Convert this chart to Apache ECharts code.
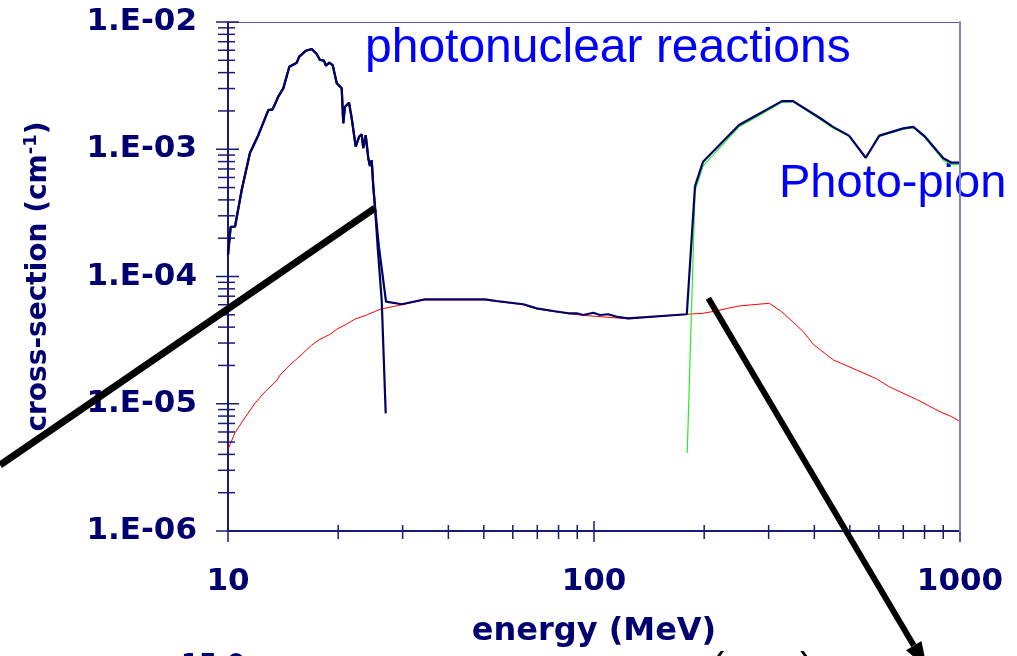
<!DOCTYPE html>
<html>
<head>
<meta charset="utf-8">
<script src="https://cdn.jsdelivr.net/npm/echarts@6/dist/echarts.min.js"></script>
<style>
  html, body { margin: 0; padding: 0; background: #ffffff; }
  #chart { width: 1017px; height: 656px; }
</style>
</head>
<body>
<div id="chart"></div>
<script>
// ---------- data (energy in MeV, cross-section in cm^-1) ----------
const energyTickLabels = ['10', '100', '1000'];
const sigmaTickLabels = ['1.E-06', '1.E-05', '1.E-04', '1.E-03', '1.E-02'];

const energyMajorTicks = [10, 100, 1000];
const energyMinorTicks = [20, 30, 40, 50, 60, 70, 80, 90, 200, 300, 400, 500, 600, 700, 800, 900];
const sigmaMajorTicks = [1e-6, 1e-5, 1e-4, 1e-3, 1e-2];
const sigmaMinorMultipliers = [2, 3, 4, 5, 6, 7, 8, 9];

// giant dipole resonance (shared by photonuclear and total curves)
const giantResonance = [
  [10.0, 1.48e-4], [10.17, 2.46e-4], [10.45, 2.46e-4], [10.90, 4.78e-4], [11.48, 9.34e-4],
  [12.10, 1.29e-3], [12.89, 2.03e-3], [13.25, 2.06e-3], [13.72, 2.59e-3], [14.16, 3.01e-3],
  [14.71, 4.45e-3], [15.41, 4.79e-3], [15.66, 5.34e-3], [16.33, 5.95e-3], [16.93, 6.14e-3],
  [17.47, 5.60e-3], [17.84, 5.03e-3], [18.29, 4.97e-3], [18.52, 4.53e-3], [18.91, 4.79e-3],
  [19.32, 4.59e-3], [19.82, 3.30e-3], [20.45, 3.01e-3], [20.65, 1.60e-3], [20.87, 2.16e-3],
  [21.41, 2.32e-3], [21.78, 1.75e-3], [21.99, 1.80e-3], [22.33, 1.05e-3], [22.84, 1.26e-3],
  [23.19, 1.31e-3], [23.42, 1.02e-3], [23.78, 1.29e-3], [24.17, 8.5e-4], [24.43, 7.4e-4],
  [24.70, 8.2e-4], [24.94, 5.1e-4], [25.21, 3.54e-4]
];
const photonuclearTail = [[25.64, 1.7e-4], [26.30, 6.5e-5], [26.97, 8.4e-6]];
const totalTail = [[25.85, 1.7e-4], [27.02, 6.34e-5]];
const totalPlateau = [
  [29.83, 6.05e-5], [34.54, 6.62e-5], [39.58, 6.62e-5], [44.89, 6.62e-5], [50.37, 6.62e-5],
  [54.22, 6.42e-5], [64.10, 6.05e-5], [69.74, 5.62e-5], [77.42, 5.36e-5], [85.08, 5.14e-5],
  [89.68, 5.14e-5], [93.50, 4.98e-5], [99.57, 5.19e-5], [103.8, 4.98e-5], [109.4, 5.05e-5],
  [115.4, 4.83e-5], [124.1, 4.69e-5], [179.3, 5.05e-5]
];
const totalPhotoPion = [
  [188.8, 5.14e-4], [198.6, 7.98e-4], [249.0, 1.55e-3], [278.9, 1.86e-3], [326.4, 2.39e-3],
  [349.8, 2.39e-3], [414.5, 1.76e-3], [449.8, 1.50e-3], [497.5, 1.28e-3], [552.6, 8.58e-4],
  [601.9, 1.28e-3], [700.0, 1.46e-3], [745.6, 1.50e-3], [802.6, 1.255e-3], [900.5, 8.49e-4],
  [949.1, 7.84e-4], [1000, 7.84e-4]
];
const photoPionOnly = [
  [179.8, 4.12e-6], [188.8, 4.7e-4], [198.6, 7.4e-4], [249.0, 1.50e-3], [278.9, 1.80e-3],
  [326.4, 2.35e-3], [349.8, 2.36e-3], [414.5, 1.72e-3], [449.8, 1.47e-3], [497.5, 1.26e-3],
  [552.6, 8.5e-4], [601.9, 1.26e-3], [700.0, 1.44e-3], [745.6, 1.48e-3], [802.6, 1.23e-3],
  [900.5, 8.2e-4], [949.1, 7.6e-4], [1000, 7.6e-4]
];
const redCurve = [
  [10.0, 4.39e-6], [10.45, 5.92e-6], [11.01, 7.45e-6], [11.85, 1.01e-5], [12.62, 1.24e-5],
  [13.64, 1.54e-5], [13.87, 1.68e-5], [14.77, 2.02e-5], [15.73, 2.37e-5], [16.93, 2.89e-5],
  [17.84, 3.21e-5], [18.99, 3.51e-5], [19.82, 3.85e-5], [21.10, 4.23e-5], [22.23, 4.63e-5],
  [23.93, 4.98e-5], [26.02, 5.52e-5], [29.83, 6.0e-5], [34.54, 6.55e-5], [50.37, 6.55e-5],
  [54.22, 6.35e-5], [64.10, 6.0e-5], [69.74, 5.57e-5], [77.42, 5.3e-5], [93.50, 4.95e-5],
  [124.1, 4.65e-5], [179.3, 5.05e-5], [198.9, 5.14e-5], [216.4, 5.38e-5], [248.0, 5.86e-5],
  [301.3, 6.16e-5], [325.7, 5.29e-5], [350.4, 4.37e-5], [373.2, 3.68e-5], [397.4, 2.93e-5],
  [450.6, 2.21e-5], [522.2, 1.84e-5], [592.1, 1.57e-5], [643.9, 1.35e-5], [761.6, 1.08e-5],
  [881.9, 8.66e-6], [949.0, 7.91e-6], [1000, 7.23e-6]
];
// black pointer lines (data coordinates): [x1, y1, x2, y2, arrowAtEnd]
const pointers = [
  [2.382, 3.30e-6, 25.21, 3.45e-4, 0],
  [205.3, 6.74e-5, 812.4, 8.39e-8, 1]
];

// ---------- build ----------
const NAVY = '#000066';
const AXIS = '#1a1a78';
const LABEL = '#000070';

const photonuclearData = giantResonance.concat(photonuclearTail);
const totalData = giantResonance.concat(totalTail, totalPlateau, totalPhotoPion);

const tickData = [];
sigmaMajorTicks.forEach(v => tickData.push([10, v, 0]));
sigmaMajorTicks.slice(0, -1).forEach(d => sigmaMinorMultipliers.forEach(m => tickData.push([10, d * m, 1])));
energyMajorTicks.forEach(v => tickData.push([v, 1e-6, 2]));
energyMinorTicks.forEach(v => tickData.push([v, 1e-6, 3]));

const chart = echarts.init(document.getElementById('chart'), null, { renderer: 'canvas' });

const labelFont = { fontFamily: 'DejaVu Sans', fontWeight: 'bold', color: LABEL };

chart.setOption({
  animation: false,
  backgroundColor: '#ffffff',
  grid: { left: 228, right: 57, top: 22, bottom: 125, containLabel: false, outerBoundsMode: 'none' },
  xAxis: [
    {
      type: 'log', logBase: 10, min: 10, max: 1000, position: 'bottom',
      axisLine: { lineStyle: { color: AXIS, width: 2 } },
      axisTick: { show: false }, splitLine: { show: false }, minorTick: { show: false },
      axisLabel: Object.assign({ fontSize: 31, margin: 35,
        formatter: v => energyTickLabels[Math.round(Math.log10(v)) - 1] }, labelFont),
      name: 'energy (MeV)', nameLocation: 'middle', nameGap: 85,
      nameTextStyle: Object.assign({ fontSize: 32 }, labelFont)
    },
    {
      type: 'log', logBase: 10, min: 10, max: 1000, position: 'top',
      axisLine: { lineStyle: { color: '#5a5aa8', width: 1.2 } },
      axisTick: { show: false }, axisLabel: { show: false }, splitLine: { show: false }
    }
  ],
  yAxis: [
    {
      type: 'log', logBase: 10, min: 1e-6, max: 1e-2, position: 'left',
      axisLine: { lineStyle: { color: AXIS, width: 2 } },
      axisTick: { show: false }, splitLine: { show: false }, minorTick: { show: false },
      axisLabel: Object.assign({ fontSize: 31, margin: 31,
        formatter: v => sigmaTickLabels[Math.round(Math.log10(v)) + 6] }, labelFont),
      name: '{a|cross-section (cm}{s|-1}{a|)}', nameLocation: 'middle', nameGap: 172, nameRotate: 90,
      nameTextStyle: {
        rich: {
          a: { fontSize: 28, fontFamily: 'DejaVu Sans', fontWeight: 'bold', color: LABEL, lineHeight: 34 },
          s: { fontSize: 18, fontFamily: 'DejaVu Sans', fontWeight: 'bold', color: LABEL, verticalAlign: 'top', lineHeight: 34 }
        }
      }
    },
    {
      type: 'log', logBase: 10, min: 1e-6, max: 1e-2, position: 'right', z: 5,
      axisLine: { lineStyle: { color: '#8484c6', width: 2 } },
      axisTick: { show: false }, axisLabel: { show: false }, splitLine: { show: false }
    }
  ],
  graphic: [
    { type: 'text', z: 0, left: 365, top: 25, style: { text: 'photonuclear reactions', font: '48px "Liberation Sans", Arial, sans-serif', fill: '#0000ff' } },
    { type: 'text', z: 0, left: 779, top: 161, style: { text: 'Photo-pion', font: '47px "Liberation Sans", Arial, sans-serif', fill: '#0000ff' } },
    { type: 'text', z: 0, left: 181, top: 653, style: { text: '15.0', font: 'bold 26px "DejaVu Sans"', fill: LABEL } },
    { type: 'text', z: 0, left: 711, top: 650, style: { text: '(', font: '40px "Liberation Sans"', fill: '#000000' } },
    { type: 'text', z: 0, left: 800, top: 650, style: { text: ')', font: '40px "Liberation Sans"', fill: '#000000' } }
  ],
  series: [
    {
      type: 'custom', name: 'ticks', xAxisIndex: 0, yAxisIndex: 0, clip: false, z: 3, silent: true,
      encode: { x: 0, y: 1 }, data: tickData,
      renderItem: (params, api) => {
        const p = api.coord([api.value(0), api.value(1)]);
        const k = api.value(2);
        let s;
        if (k === 0) s = { x1: p[0] - 12, y1: p[1], x2: p[0] + 11, y2: p[1] };
        else if (k === 1) s = { x1: p[0] - 10, y1: p[1], x2: p[0] + 7, y2: p[1] };
        else if (k === 2) s = { x1: p[0], y1: p[1] - 10, x2: p[0], y2: p[1] + 11 };
        else s = { x1: p[0], y1: p[1] - 6, x2: p[0], y2: p[1] + 8 };
        return { type: 'line', shape: s, style: { stroke: AXIS, lineWidth: 1.5 } };
      }
    },
    {
      type: 'line', name: 'red', data: redCurve, z: 2, symbol: 'none', silent: true,
      lineStyle: { color: '#ff0000', width: 1 }
    },
    {
      type: 'line', name: 'pion', data: photoPionOnly, z: 3, symbol: 'none', silent: true,
      lineStyle: { color: '#22ee22', width: 1.2 }
    },
    {
      type: 'line', name: 'photonuclear', data: photonuclearData, z: 4, symbol: 'none', silent: true,
      lineStyle: { color: NAVY, width: 2.2 }
    },
    {
      type: 'line', name: 'total', data: totalData, z: 4, symbol: 'none', silent: true,
      lineStyle: { color: NAVY, width: 2.2 }
    },
    {
      type: 'custom', name: 'pointers', xAxisIndex: 0, yAxisIndex: 0, clip: false, z: 6, silent: true,
      encode: { x: [0, 2], y: [1, 3] }, data: pointers,
      renderItem: (params, api) => {
        const a = api.coord([api.value(0), api.value(1)]);
        const b = api.coord([api.value(2), api.value(3)]);
        const arrow = api.value(4) === 1;
        const children = [];
        let end = b;
        if (arrow) {
          const dx = b[0] - a[0], dy = b[1] - a[1];
          const len = Math.sqrt(dx * dx + dy * dy);
          const ux = dx / len, uy = dy / len;
          const headLen = 26, headHalf = 9;
          const base = [b[0] - ux * headLen, b[1] - uy * headLen];
          end = base;
          children.push({ type: 'polygon', shape: { points: [
            [b[0], b[1]],
            [base[0] - uy * headHalf, base[1] + ux * headHalf],
            [base[0] + uy * headHalf, base[1] - ux * headHalf]
          ] }, style: { fill: '#000000' } });
        }
        children.unshift({ type: 'line', shape: { x1: a[0], y1: a[1], x2: end[0], y2: end[1] },
          style: { stroke: '#000000', lineWidth: arrow ? 6 : 7, lineCap: 'butt' } });
        return { type: 'group', children: children };
      }
    }
  ]
});
</script>
</body>
</html>
